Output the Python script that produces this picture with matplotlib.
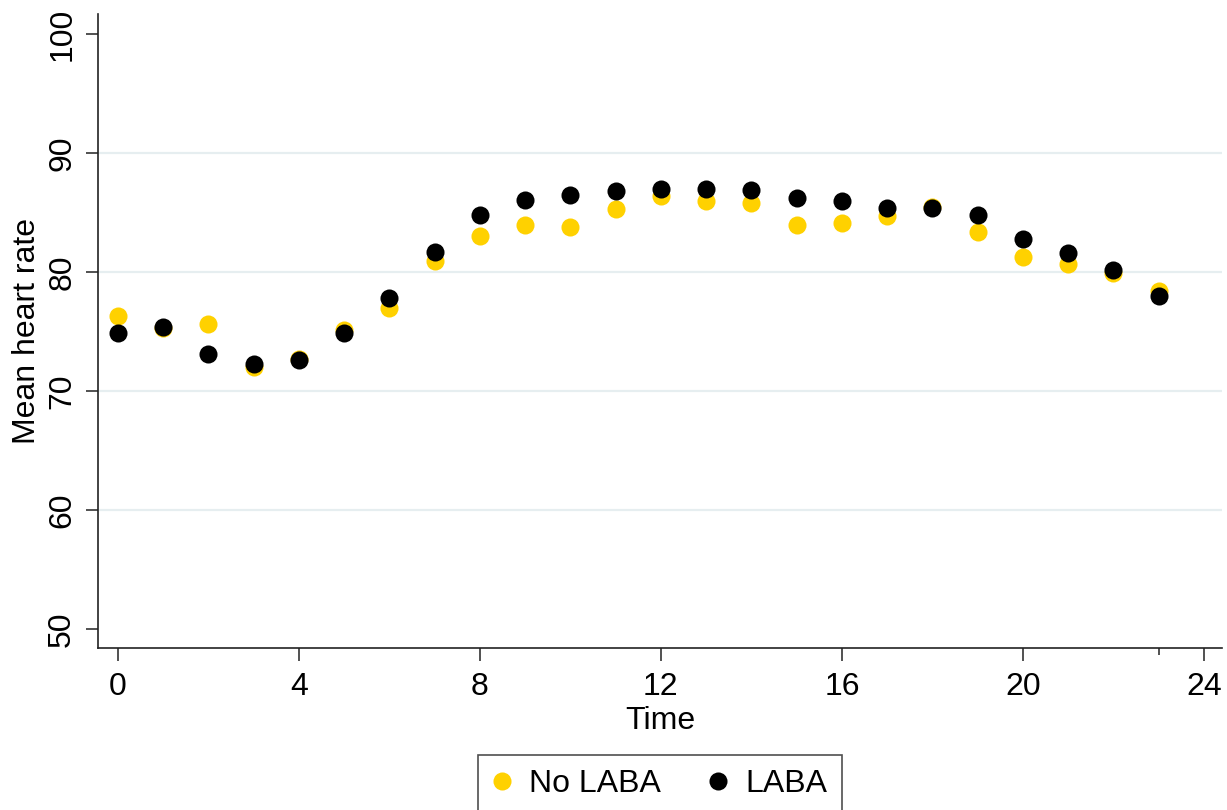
"""Mean heart rate by hour, LABA vs no LABA (scatter)."""

import matplotlib
matplotlib.use("Agg")
import matplotlib.pyplot as plt

plt.rcParams["font.family"] = ["Liberation Sans", "DejaVu Sans"]

hours = list(range(24))

no_laba = [76.3, 75.3, 75.6, 72.0, 72.7, 75.1, 77.0, 80.9, 83.0, 84.0,
           83.8, 85.3, 86.4, 86.0, 85.8, 84.0, 84.1, 84.7, 85.5, 83.4,
           81.3, 80.7, 79.9, 78.4]
laba = [74.9, 75.4, 73.1, 72.3, 72.6, 74.9, 77.8, 81.7, 84.8, 86.1,
        86.5, 86.8, 87.0, 87.0, 86.9, 86.2, 86.0, 85.4, 85.4, 84.8,
        82.8, 81.6, 80.2, 78.0]

x_ticks = [0, 4, 8, 12, 16, 20, 24]
y_ticks = [50, 60, 70, 80, 90, 100]
grid_lines = [60, 70, 80, 90]

YELLOW = "#FFD100"
GRID = "#E6EEF0"
FS = 23

fig = plt.figure(figsize=(12.27, 8.10), dpi=100)
ax = fig.add_axes([98 / 1227, 1 - 648 / 810, (1222 - 98) / 1227, (648 - 14) / 810])

for g in grid_lines:
    ax.axhline(g, color=GRID, linewidth=1.6, zorder=0)

ax.plot(hours, no_laba, "o", color=YELLOW, markersize=13, markeredgewidth=0,
        label="No LABA", zorder=2)
ax.plot(hours, laba, "o", color="black", markersize=13, markeredgewidth=0,
        label="LABA", zorder=3)

ax.set_xlim(-0.44, 24.4)
ax.set_ylim(48.4, 101.7)

ax.spines["top"].set_visible(False)
ax.spines["right"].set_visible(False)
for side in ("left", "bottom"):
    ax.spines[side].set_linewidth(1.2)
    ax.spines[side].set_color("#222222")

ax.set_xticks(x_ticks)
ax.set_xticks([23], minor=True)
ax.set_yticks(y_ticks)
ax.tick_params(axis="both", which="major", length=9, width=1.1, labelsize=FS,
               color="#222222")
ax.tick_params(axis="x", which="major", pad=8)
ax.tick_params(axis="x", which="minor", length=5, width=1.1, color="#222222")
ax.tick_params(axis="y", pad=6, labelrotation=90)
for lab in ax.get_yticklabels():
    lab.set_va("center")

ax.set_xlabel("Time", fontsize=FS, labelpad=3)
ax.set_ylabel("Mean heart rate", fontsize=FS, labelpad=4)

# legend box runs off the bottom edge, as in the original
leg = fig.legend(loc="upper center", bbox_to_anchor=(660 / 1227, 1 - 755 / 810),
                 ncol=2, fontsize=FS, frameon=True, fancybox=False,
                 handlelength=0.6, handletextpad=0.55,
                 columnspacing=1.5, borderpad=0.45, borderaxespad=0)
leg.get_frame().set_edgecolor("#222222")
leg.get_frame().set_linewidth(1.2)

fig.savefig("out.png", dpi=100, facecolor="white")
